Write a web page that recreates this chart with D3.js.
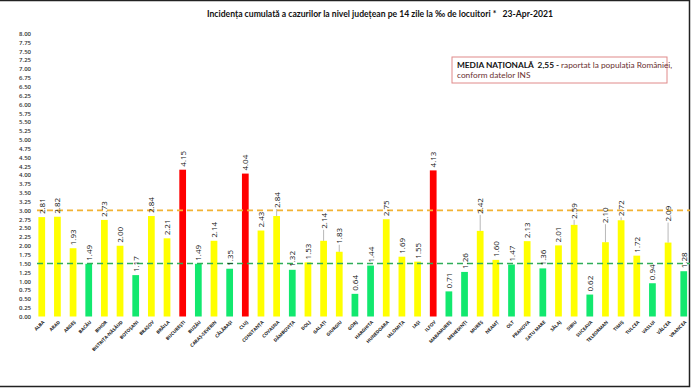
<!DOCTYPE html>
<html><head><meta charset="utf-8">
<script src="https://cdn.jsdelivr.net/npm/d3@7"></script>
<style>body{margin:0;background:#fff}svg{display:block}text{white-space:pre}</style>
</head><body><svg id="c" width="692" height="388"></svg>
<script>
const categories = ["ALBA","ARAD","ARGEȘ","BACĂU","BIHOR","BISTRIȚA-NĂSĂUD","BOTOȘANI","BRAȘOV","BRĂILA","BUCUREȘTI","BUZĂU","CARAȘ-SEVERIN","CĂLĂRAȘI","CLUJ","CONSTANȚA","COVASNA","DÂMBOVIȚA","DOLJ","GALAȚI","GIURGIU","GORJ","HARGHITA","HUNEDOARA","IALOMIȚA","IAȘI","ILFOV","MARAMUREȘ","MEHEDINȚI","MUREȘ","NEAMȚ","OLT","PRAHOVA","SATU MARE","SĂLAJ","SIBIU","SUCEAVA","TELEORMAN","TIMIȘ","TULCEA","VASLUI","VÂLCEA","VRANCEA"];
const values = [2.81,2.82,1.93,1.49,2.73,2.00,1.17,2.84,2.21,4.15,1.49,2.14,1.35,4.04,2.43,2.84,1.32,1.53,2.14,1.83,0.64,1.44,2.75,1.69,1.55,4.13,0.71,1.26,2.42,1.60,1.47,2.13,1.36,2.01,2.59,0.62,2.10,2.72,1.72,0.94,2.09,1.28];
const yTicks = d3.range(0, 8.001, 0.25);
const thresholdHigh = 3.0;
const thresholdLow = 1.5;
const titleText = "Incidența cumulată a cazurilor la nivel județean pe 14 zile la ‰ de locuitori *   23-Apr-2021";
const nationalAvg = "2,55";

// layout tweak: some value labels were lifted in the original (pixels)
const labelLift = {"COVASNA":5,"GALAȚI":9,"GIURGIU":5,"MUREȘ":14,"SIBIU":3,"TELEORMAN":16,"TIMIȘ":1,"VÂLCEA":18};

const svg = d3.select("#c");
const x = d3.scaleBand().domain(categories).range([34, 691.5]).paddingInner(0.57).paddingOuter(0.28);
const y = d3.scaleLinear().domain([0, 8]).range([316.5, 33.5]);

const colorOf = v => v > 4 ? "#ff0000" : (v < 1.5 ? "#12e86e" : "#ffff00");

// frame
svg.append("path").attr("d","M0,0.5H689.5V386.5H0").attr("fill","none").attr("stroke","#222").attr("stroke-width",1.5);

// title
svg.append("text").attr("x", 207).attr("y", 17)
  .attr("font-family","Lato, 'Open Sans', sans-serif").attr("font-weight","bold").attr("font-size", 9)
  .attr("textLength", 346).attr("lengthAdjust","spacingAndGlyphs")
  .attr("fill","#111").text(titleText);

// y axis
const yAxis = d3.axisLeft(y).tickValues(yTicks).tickFormat(d3.format(".2f")).tickSize(0).tickPadding(0);
const gy = svg.append("g").attr("transform","translate(31,0)").call(yAxis);
gy.select(".domain").remove();
gy.selectAll("text").attr("font-family","'Open Sans', sans-serif").attr("font-size",6).attr("font-weight","600").attr("fill","#333");

// bars
svg.append("g").selectAll("rect").data(categories).join("rect")
  .attr("x", d => x(d)).attr("width", x.bandwidth())
  .attr("y", (d,i) => y(values[i])).attr("height", (d,i) => y(0) - y(values[i]))
  .attr("fill", (d,i) => colorOf(values[i]));

// threshold lines
[[thresholdHigh,"#f2b233"],[thresholdLow,"#2fae5a"]].forEach(([v,c]) => {
  svg.append("line").attr("x1", 37).attr("x2", 690).attr("y1", y(v)).attr("y2", y(v))
    .attr("stroke", c).attr("stroke-width", 1.6).attr("stroke-dasharray","6,4");
});

// leader lines + value labels
const lg = svg.append("g");
categories.forEach((c,i) => {
  const cx = x(c) + x.bandwidth()/2;
  const top = y(values[i]);
  const lift = labelLift[c] || 0;
  const base = top - 3 - lift;
  if (lift > 0) {
    lg.append("line").attr("x1",cx).attr("x2",cx).attr("y1",top).attr("y2",base+1)
      .attr("stroke","#999").attr("stroke-width",0.7);
  }
  lg.append("text").attr("transform",`translate(${cx+3},${base}) rotate(-90)`)
    .attr("font-family","'Open Sans', sans-serif").attr("font-size",8).attr("fill","#111")
    .text(values[i].toFixed(2));
});

// x axis labels
const xAxis = d3.axisBottom(x).tickSize(0).tickPadding(0);
const gx = svg.append("g").attr("transform",`translate(0,${y(0)})`).call(xAxis);
gx.select(".domain").remove();
gx.selectAll("text").attr("text-anchor","end").attr("dy",0)
  .attr("transform","translate(3,6) rotate(-45)")
  .attr("font-family","'Open Sans', sans-serif").attr("font-size",4.6).attr("font-weight","bold").attr("fill","#222");

// national average box
const bx = 452, by = 57;
svg.append("rect").attr("x",bx).attr("y",by).attr("width",215).attr("height",26)
  .attr("fill","#fff").attr("stroke","#e08a8a").attr("stroke-width",1);
const t1 = svg.append("text").attr("x",bx+5).attr("y",by+10.5)
  .attr("font-family","Lato, 'Open Sans', sans-serif").attr("font-size",8.3);
t1.append("tspan").attr("font-weight","bold").attr("fill","#111").text("MEDIA NAȚIONALĂ  " + nationalAvg + " - ");
t1.append("tspan").attr("fill","#6a3030").text("raportat la populația României,");
svg.append("text").attr("x",bx+5).attr("y",by+21)
  .attr("font-family","Lato, 'Open Sans', sans-serif").attr("font-size",8.3).attr("fill","#6a3030")
  .text("conform datelor INS");
</script></body></html>
